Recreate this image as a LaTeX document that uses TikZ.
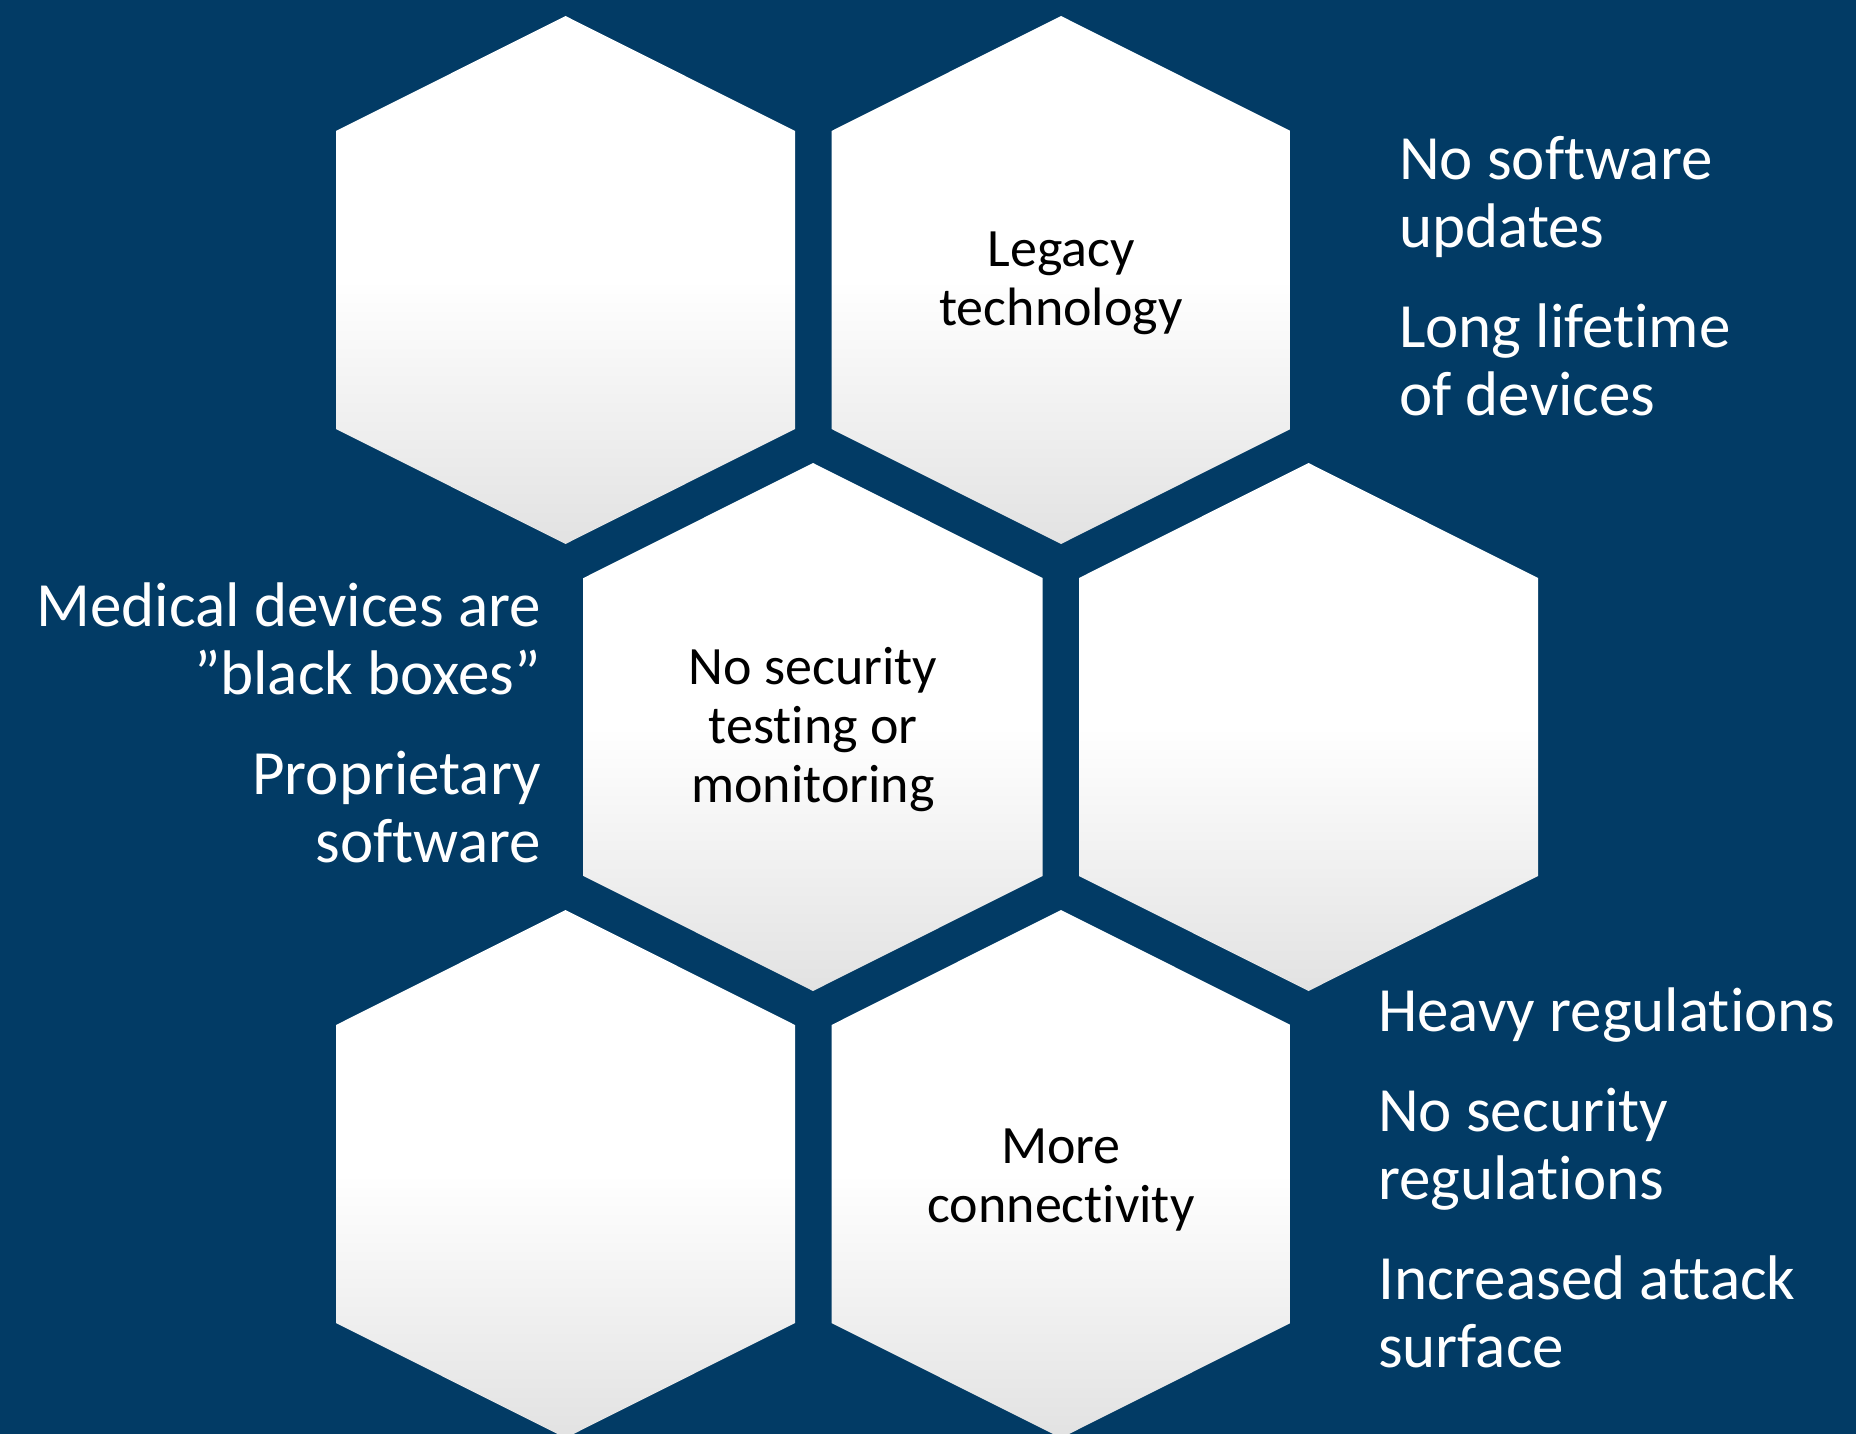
\documentclass[tikz,border=0pt]{standalone}
\usepackage{fontspec}
\setmainfont[Ligatures=NoCommon]{Carlito}
\usetikzlibrary{positioning}
\definecolor{bgColor}{HTML}{023B65}
\definecolor{hexBot}{HTML}{E2E2E2}
\tikzset{
	hexcell/.pic={\shade[top color=white, bottom color=hexBot, middle color=white]
		(0,-264) -- (229.5,-149) -- (229.5,149) -- (0,264) -- (-229.5,149) -- (-229.5,-149) -- cycle;},
	celltext/.style={align=center, inner sep=0, text=black, font=\fontsize{54}{59}\selectfont},
	sidetext/.style={inner sep=0, text=white, font=\fontsize{63}{68}\selectfont}
}
\newcommand{\pargap}{\\[32pt]}
\begin{document}
\begin{tikzpicture}[x=1pt, y=-1pt]
\useasboundingbox (0,0) rectangle (1856,1434);
\fill[bgColor] (0,0) rectangle (1856,1434);
% honeycomb
\foreach \cx/\cy in {565.5/280, 1061/280, 813/727, 1308.5/727, 565.5/1174, 1061/1174}
	\pic at (\cx,\cy) {hexcell};
\node[celltext] (legacy) at (1061,283) {Legacy\\technology};
\node[celltext] (notest) at (813,730) {No security\\testing or\\monitoring};
\node[celltext] (connect) at (1061,1180) {More\\connectivity};
% side notes (base = last line)
\node[sidetext, align=left, anchor=base west] (upd) at (1399,415) {No software\\updates\pargap Long lifetime\\of devices};
\node[sidetext, align=right, anchor=base east] (blk) at (541,862) {Medical devices are\\”black boxes”\pargap Proprietary\\software};
\node[sidetext, align=left, anchor=base west] (reg) at (1378,1367) {Heavy regulations\pargap No security\\regulations\pargap Increased attack\\surface};
\end{tikzpicture}
\end{document}
